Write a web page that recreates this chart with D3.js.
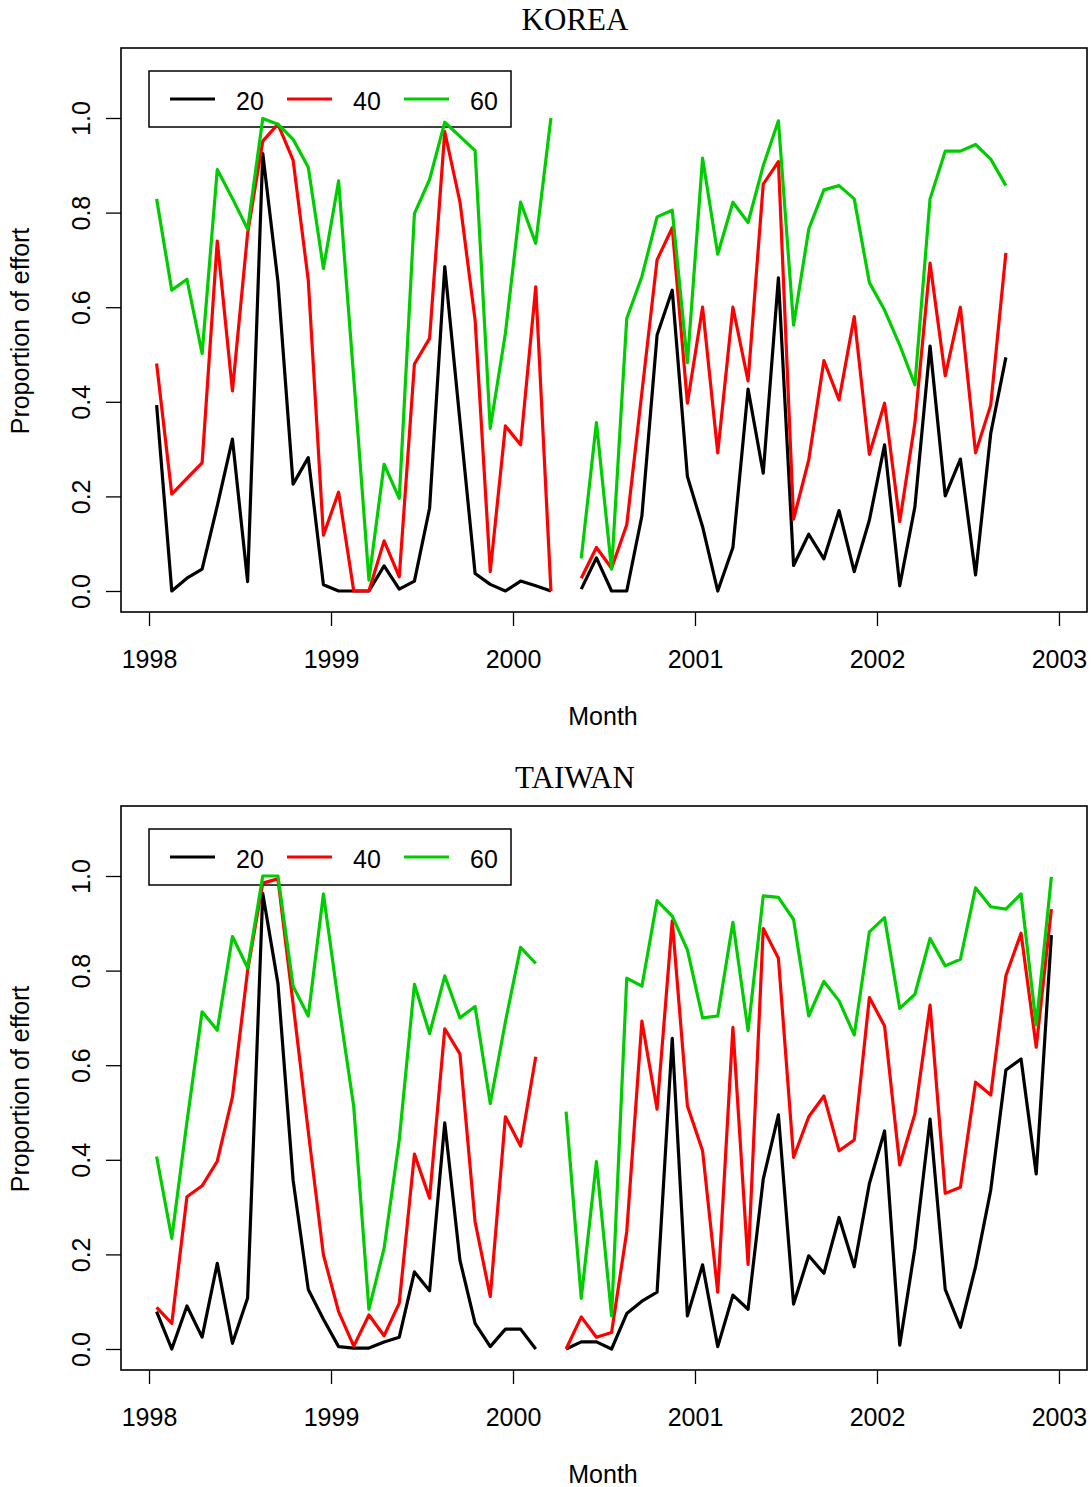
<!DOCTYPE html>
<html>
<head>
<meta charset="utf-8">
<script src="https://cdn.jsdelivr.net/npm/d3@7"></script>
<style>
  html, body { margin: 0; padding: 0; background: #fff; }
  svg { display: block; }
  text { font-family: "Liberation Sans", Arial, sans-serif; }
</style>
</head>
<body>
<svg id="chart" width="1092" height="1487"></svg>
<script>
// ---- data ----
const months = [
  "1998-01","1998-02","1998-03","1998-04","1998-05","1998-06","1998-07","1998-08","1998-09","1998-10","1998-11","1998-12",
  "1999-01","1999-02","1999-03","1999-04","1999-05","1999-06","1999-07","1999-08","1999-09","1999-10","1999-11","1999-12",
  "2000-01","2000-02","2000-03","2000-04","2000-05","2000-06","2000-07","2000-08","2000-09","2000-10","2000-11","2000-12",
  "2001-01","2001-02","2001-03","2001-04","2001-05","2001-06","2001-07","2001-08","2001-09","2001-10","2001-11","2001-12",
  "2002-01","2002-02","2002-03","2002-04","2002-05","2002-06","2002-07","2002-08","2002-09","2002-10","2002-11","2002-12"
];
const seriesNames = ["20", "40", "60"];
const xTicks = [1998, 1999, 2000, 2001, 2002, 2003];
const yTicks = [0, 0.2, 0.4, 0.6, 0.8, 1.0];

const korea20 = [0.393,0.0,0.027,0.046,0.18,0.321,0.02,0.925,0.654,0.226,
  0.282,0.013,0.0,0.0,0.0,0.053,0.004,0.021,0.175,0.686,
  0.36,0.037,0.014,0.0,0.021,0.011,0.0,null,0.004,0.07,
  0.0,0.0,0.159,0.541,0.636,0.242,0.136,0.0,0.092,0.427,
  0.249,0.662,0.054,0.12,0.068,0.17,0.041,0.15,0.309,0.011,
  0.178,0.518,0.201,0.279,0.034,0.333,0.494];
const korea40 = [0.481,0.205,0.238,0.271,0.74,0.423,0.756,0.951,0.987,0.911,
  0.657,0.118,0.209,0.0,0.0,0.106,0.03,0.48,0.534,0.971,
  0.823,0.573,0.041,0.349,0.309,0.643,0.0,null,0.027,0.092,
  0.048,0.14,0.42,0.7,0.768,0.397,0.6,0.292,0.6,0.444,
  0.86,0.908,0.152,0.277,0.487,0.404,0.58,0.289,0.397,0.147,
  0.355,0.693,0.455,0.6,0.292,0.393,0.715];
const korea60 = [0.829,0.636,0.659,0.502,0.891,0.83,0.765,0.999,0.987,0.955,
  0.896,0.682,0.867,0.45,0.023,0.268,0.196,0.798,0.870,0.991,
  0.961,0.931,0.344,0.545,0.822,0.735,1.0,null,0.069,0.356,
  0.046,0.576,0.665,0.791,0.805,0.483,0.915,0.712,0.822,0.779,
  0.899,0.994,0.562,0.765,0.848,0.857,0.829,0.652,0.594,0.520,
  0.436,0.829,0.930,0.930,0.944,0.913,0.857];

const taiwan20 = [0.079,0.0,0.091,0.025,0.181,0.012,0.108,0.963,0.773,0.357,
  0.126,0.063,0.005,0.002,0.002,0.015,0.025,0.163,0.123,0.478,
  0.188,0.054,0.005,0.042,0.042,0.0,null,0.0,0.015,0.015,
  0.0,0.075,0.101,0.12,0.657,0.07,0.178,0.005,0.114,0.084,
  0.359,0.495,0.095,0.197,0.16,0.278,0.174,0.35,0.461,0.008,
  0.213,0.486,0.126,0.046,0.174,0.336,0.59,0.613,0.37,0.875];
const taiwan40 = [0.088,0.054,0.322,0.345,0.397,0.533,0.8,0.985,0.994,0.73,
  0.46,0.199,0.079,0.006,0.072,0.028,0.097,0.412,0.319,0.677,
  0.624,0.269,0.111,0.491,0.429,0.618,null,0.0,0.068,0.025,
  0.035,0.248,0.693,0.507,0.905,0.514,0.419,0.12,0.68,0.179,
  0.889,0.826,0.405,0.491,0.535,0.419,0.442,0.743,0.683,0.389,
  0.497,0.727,0.329,0.342,0.564,0.537,0.789,0.879,0.638,0.93];
const taiwan60 = [0.407,0.234,0.48,0.713,0.674,0.872,0.806,1.0,1.0,0.767,
  0.704,0.962,0.73,0.512,0.084,0.213,0.442,0.771,0.667,0.789,
  0.7,0.724,0.519,0.692,0.849,0.815,null,0.502,0.107,0.396,
  0.07,0.784,0.767,0.948,0.915,0.844,0.7,0.704,0.902,0.673,
  0.958,0.955,0.908,0.704,0.777,0.736,0.664,0.882,0.912,0.72,
  0.75,0.868,0.81,0.824,0.975,0.935,0.93,0.962,0.685,0.998];

const colors = ["#000000", "#FF0000", "#00CD00"];

// ---- drawing ----
const svg = d3.select("#chart");
const toYear = s => { const [y, m] = s.split("-").map(Number); return y + (m - 0.5) / 12; };

function panel(offsetY, title, series) {
  const g = svg.append("g").attr("transform", `translate(0,${offsetY})`);
  const left = 121, right = 1087, top = 48, bottom = 612;
  const x = d3.scaleLinear().domain([1997.846, 2003.154]).range([left, right]);
  const y = d3.scaleLinear().domain([0, 1]).range([591, 118]);

  // title
  g.append("text").attr("x", 575).attr("y", 30)
    .attr("text-anchor", "middle")
    .style("font-family", "'Liberation Serif', 'Times New Roman', serif")
    .style("font-size", "31px").text(title);

  // legend (transparent background)
  const lg = g.append("g");
  lg.append("rect").attr("x", 149).attr("y", 71).attr("width", 362).attr("height", 56)
    .attr("fill", "none").attr("stroke", "#000").attr("stroke-width", 1.5);
  const lx = [170, 287, 404];
  seriesNames.forEach((nm, i) => {
    lg.append("line").attr("x1", lx[i]).attr("x2", lx[i] + 45)
      .attr("y1", 99).attr("y2", 99)
      .attr("stroke", colors[i]).attr("stroke-width", 3.2);
    lg.append("text").attr("x", lx[i] + 66).attr("y", 110)
      .style("font-size", "25px").text(nm);
  });

  // lines
  series.forEach((vals, i) => {
    const pts = vals.map((v, j) => ({ x: toYear(months[j]), v }));
    const line = d3.line().defined(d => d.v !== null)
      .x(d => x(d.x)).y(d => y(d.v));
    g.append("path").datum(pts)
      .attr("d", line).attr("fill", "none")
      .attr("stroke", colors[i]).attr("stroke-width", 3.2)
      .attr("stroke-linejoin", "round").attr("stroke-linecap", "butt");
  });

  // box
  g.append("rect").attr("x", left).attr("y", top)
    .attr("width", right - left).attr("height", bottom - top)
    .attr("fill", "none").attr("stroke", "#000").attr("stroke-width", 1.6);

  // x axis
  const xa = g.append("g").attr("transform", `translate(0,${bottom})`)
    .call(d3.axisBottom(x).tickValues(xTicks).tickFormat(d3.format("d")).tickSize(14));
  xa.select(".domain").remove();
  xa.selectAll("line").attr("stroke", "#000").attr("stroke-width", 1.3);
  xa.selectAll("text").style("font-size", "25px").attr("fill", "#000")
    .attr("dy", null).attr("y", 56);

  // y axis
  const ya = g.append("g").attr("transform", `translate(${left},0)`)
    .call(d3.axisLeft(y).tickValues(yTicks).tickFormat(d3.format(".1f")).tickSize(15));
  ya.select(".domain").remove();
  ya.selectAll("line").attr("stroke", "#000").attr("stroke-width", 1.3);
  ya.selectAll("text").style("font-size", "25px").attr("fill", "#000")
    .attr("x", null).attr("dy", null)
    .attr("text-anchor", "middle")
    .attr("transform", "translate(-31,0) rotate(-90)");

  // axis titles
  g.append("text").attr("x", 603).attr("y", 725).attr("text-anchor", "middle")
    .style("font-size", "25px").text("Month");
  g.append("text").attr("text-anchor", "middle")
    .attr("transform", "translate(29,331) rotate(-90)")
    .style("font-size", "25px").text("Proportion of effort");
}

panel(0, "KOREA", [korea20, korea40, korea60]);
panel(758, "TAIWAN", [taiwan20, taiwan40, taiwan60]);
</script>
</body>
</html>
